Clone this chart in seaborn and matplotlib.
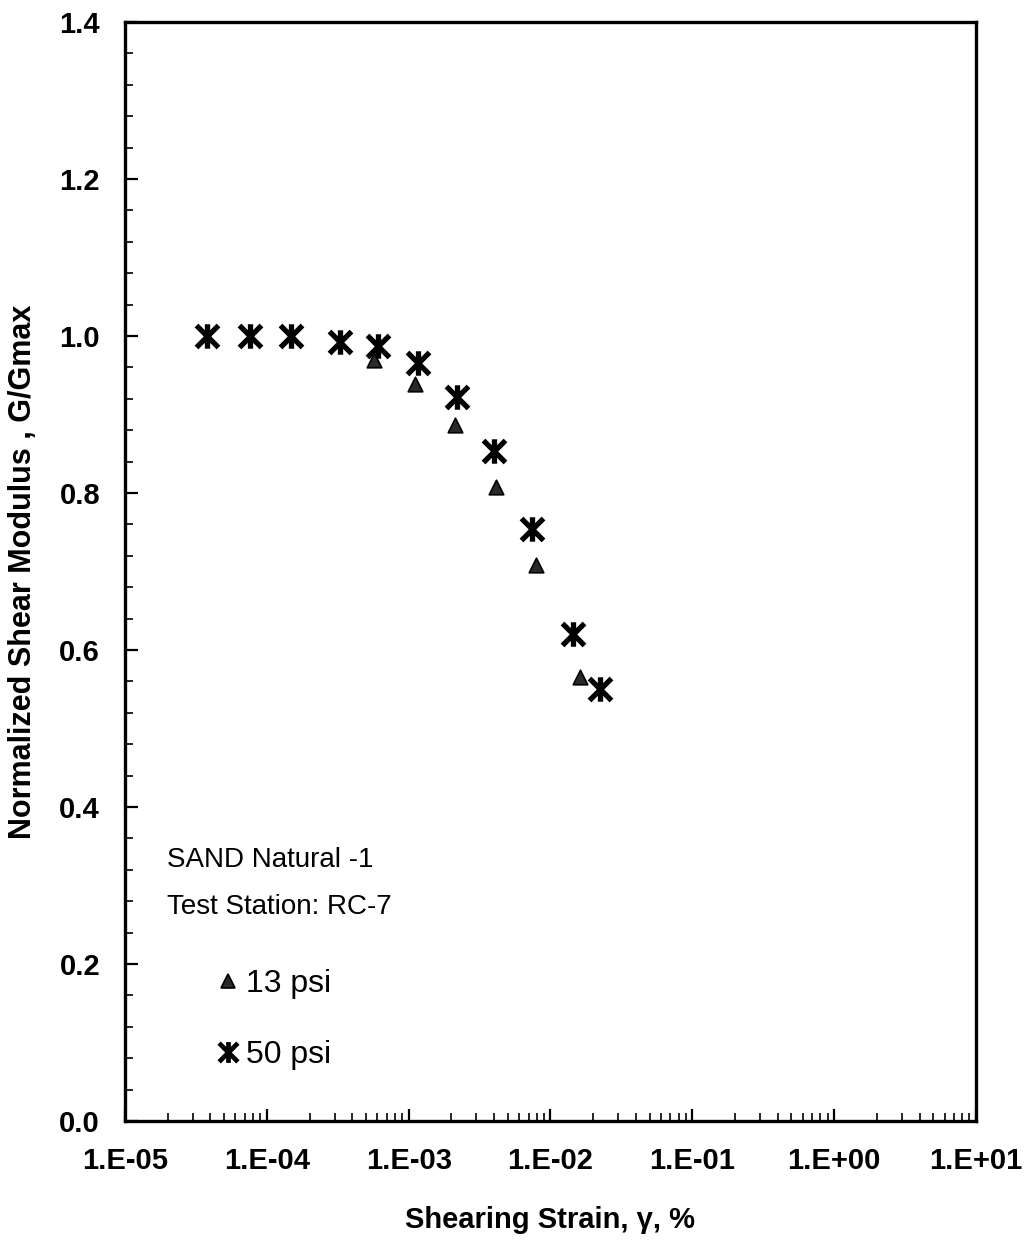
import numpy as np
import pandas as pd
import matplotlib
matplotlib.use("Agg")
import matplotlib.pyplot as plt
import matplotlib.ticker as mticker
from matplotlib.lines import Line2D
from matplotlib.path import Path
import seaborn as sns

# ---- data ----
strain_50psi = [3.8e-5, 7.6e-5, 1.48e-4, 3.3e-4, 6.1e-4, 1.16e-3, 2.19e-3, 4.0e-3, 7.4e-3, 1.44e-2, 2.24e-2]
ggmax_50psi = [1.0, 1.0, 1.0, 0.992, 0.987, 0.966, 0.922, 0.853, 0.754, 0.620, 0.550]
strain_13psi = [5.7e-4, 1.11e-3, 2.13e-3, 4.1e-3, 7.9e-3, 1.62e-2]
ggmax_13psi = [0.969, 0.939, 0.887, 0.808, 0.708, 0.566]
x_ticks = [1e-5, 1e-4, 1e-3, 1e-2, 1e-1, 1e0, 1e1]
x_tick_labels = ["1.E-05", "1.E-04", "1.E-03", "1.E-02", "1.E-01", "1.E+00", "1.E+01"]
y_ticks = [0.0, 0.2, 0.4, 0.6, 0.8, 1.0, 1.2, 1.4]
y_tick_labels = ["0.0", "0.2", "0.4", "0.6", "0.8", "1.0", "1.2", "1.4"]
series_labels = ["13 psi", "50 psi"]
note_lines = ["SAND Natural -1", "Test Station: RC-7"]

sns.set_theme(style="white")
plt.rcParams['font.family'] = ['Liberation Sans', 'DejaVu Sans']
plt.rcParams['text.color'] = 'black'
plt.rcParams['axes.labelcolor'] = 'black'
plt.rcParams['xtick.color'] = 'black'
plt.rcParams['ytick.color'] = 'black'

df13 = pd.DataFrame({"strain": strain_13psi, "ggmax": ggmax_13psi})
df50 = pd.DataFrame({"strain": strain_50psi, "ggmax": ggmax_50psi})

fig = plt.figure(figsize=(10.28, 12.41), dpi=100)
ax = fig.add_axes([0.1216, 0.0967, 0.9494 - 0.1216, 0.9823 - 0.0967])

# asterisk glyph: vertical bar + X (marker shape only)
ast = Path([(0, -1), (0, 1), (-0.9, -0.9), (0.9, 0.9), (-0.9, 0.9), (0.9, -0.9)],
           [Path.MOVETO, Path.LINETO, Path.MOVETO, Path.LINETO, Path.MOVETO, Path.LINETO])

sns.scatterplot(data=df13, x="strain", y="ggmax", ax=ax, marker="^", s=110,
                color="#2a2a2a", edgecolor="black", linewidth=1.2, zorder=3)
sns.scatterplot(data=df50, x="strain", y="ggmax", ax=ax, marker=ast, s=310,
                color="black", edgecolor="black", linewidth=3.8, zorder=4)

ax.set_xscale("log")
ax.set_xlim(1e-5, 1e1)
ax.set_ylim(0, 1.4)
ax.set_xticks(x_ticks)
ax.set_xticklabels(x_tick_labels)
ax.xaxis.set_minor_locator(mticker.LogLocator(base=10, subs=np.arange(2, 10), numticks=100))
ax.xaxis.set_minor_formatter(mticker.NullFormatter())
ax.set_yticks(y_ticks)
ax.set_yticklabels(y_tick_labels)
ax.yaxis.set_minor_locator(mticker.MultipleLocator(0.04))

ax.tick_params(axis="both", which="major", direction="in", length=9, width=1.6,
               labelsize=21, bottom=True, left=True, colors="black")
ax.tick_params(axis="both", which="minor", direction="in", length=6, width=1.2,
               bottom=True, left=True, colors="black")
ax.tick_params(axis="y", which="major", pad=18)
ax.tick_params(axis="x", which="major", pad=19)
for lab in ax.get_xticklabels() + ax.get_yticklabels():
    lab.set_fontweight("bold")

for sp in ax.spines.values():
    sp.set_color("black")
    sp.set_linewidth(2.4)

ax.set_xlabel("Shearing Strain, γ, %", fontsize=21, fontweight="bold", labelpad=22)
ax.set_ylabel("Normalized Shear Modulus , G/Gmax", fontsize=22, fontweight="bold", labelpad=15)

ax.text(0.049, 0.2375, note_lines[0], transform=ax.transAxes, fontsize=20, va="center", ha="left")
ax.text(0.049, 0.1947, note_lines[1], transform=ax.transAxes, fontsize=20, va="center", ha="left")

handles = [
    Line2D([], [], linestyle="none", marker="^", markersize=10, markerfacecolor="#2a2a2a",
           markeredgecolor="black", markeredgewidth=1.2),
    Line2D([], [], linestyle="none", marker=ast, markersize=15, color="black",
           markeredgewidth=3.4),
]
leg = ax.legend(handles, series_labels, loc="center left", bbox_to_anchor=(0.091, 0.092),
                frameon=False, fontsize=23, handletextpad=0.15, labelspacing=1.28,
                handlelength=0.8, borderaxespad=0)

fig.savefig("out.png", dpi=100)
